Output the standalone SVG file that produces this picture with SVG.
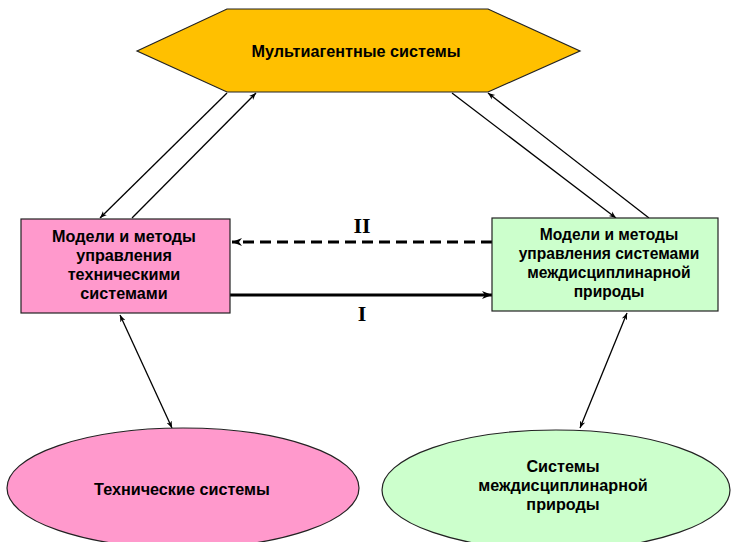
<svg xmlns="http://www.w3.org/2000/svg" width="731" height="542" viewBox="0 0 731 542">
<style>
.t{font-family:"Liberation Sans",Arial,sans-serif;font-weight:bold;font-size:16.2px;fill:#000;text-anchor:middle;dominant-baseline:central}
.s{font-size:15.6px}
.r{font-family:"Liberation Serif","Times New Roman",serif;font-weight:bold;font-size:22px;fill:#000;text-anchor:middle;dominant-baseline:central}
.sh{stroke:#222;stroke-width:1.2}
.c{stroke:#000;stroke-width:1.3;fill:none}
</style>
<defs>
<marker id="a" viewBox="0 0 10 10" refX="10" refY="5" markerWidth="7" markerHeight="7" markerUnits="userSpaceOnUse" orient="auto-start-reverse"><path d="M0,1 L10,5 L0,9 L3,5 z" fill="#000"/></marker>
<marker id="b" viewBox="0 0 10 10" refX="10" refY="5" markerWidth="10" markerHeight="10" markerUnits="userSpaceOnUse" orient="auto"><path d="M0,1 L10,5 L0,9 L3,5 z" fill="#000"/></marker>
</defs>
<rect width="731" height="542" fill="#fff"/>
<g id="connectors">
<line class="c" x1="227" y1="93" x2="100" y2="218" marker-end="url(#a)"/>
<line class="c" x1="132" y1="218" x2="256" y2="93" marker-end="url(#a)"/>
<line class="c" x1="452" y1="93" x2="616" y2="218" marker-end="url(#a)"/>
<line class="c" x1="649" y1="218" x2="488" y2="93" marker-end="url(#a)"/>
<line x1="492" y1="242" x2="232" y2="242" stroke="#000" stroke-width="3" stroke-dasharray="11,6" marker-end="url(#b)"/>
<line x1="230" y1="295" x2="492" y2="295" stroke="#000" stroke-width="3" marker-end="url(#b)"/>
<line class="c" x1="120" y1="315" x2="172" y2="428" marker-start="url(#a)" marker-end="url(#a)"/>
<line class="c" x1="627" y1="313" x2="580" y2="428" marker-start="url(#a)" marker-end="url(#a)"/>
<text class="r" x="362" y="225">II</text>
<text class="r" x="362" y="313">I</text>
</g>
<g id="multiagent">
<polygon class="sh" points="137,51 227,9 488,9 580,51 488,92 227,92" fill="#FFC000"/>
<text class="t" x="356" y="51">Мультиагентные системы</text>
</g>
<g id="models-tech">
<rect class="sh" x="21" y="219" width="209" height="94" fill="#FF99CC"/>
<text class="t" x="124" y="236">Модели и методы</text>
<text class="t" x="124" y="255">управления</text>
<text class="t" x="124" y="274">техническими</text>
<text class="t" x="124" y="293">системами</text>
</g>
<g id="models-inter">
<rect class="sh" x="492" y="218" width="226" height="93" fill="#CCFFCC"/>
<text class="t s" x="609" y="234">Модели и методы</text>
<text class="t s" x="609" y="253">управления системами</text>
<text class="t s" x="609" y="272">междисциплинарной</text>
<text class="t s" x="609" y="291">природы</text>
</g>
<g id="tech-systems">
<ellipse class="sh" cx="183" cy="488" rx="176" ry="60" fill="#FF99CC"/>
<text class="t" x="182" y="489">Технические системы</text>
</g>
<g id="inter-systems">
<ellipse class="sh" cx="556" cy="490" rx="174" ry="60" fill="#CCFFCC"/>
<text class="t" x="563" y="466">Системы</text>
<text class="t" x="563" y="485">междисциплинарной</text>
<text class="t" x="563" y="504">природы</text>
</g>
</svg>
